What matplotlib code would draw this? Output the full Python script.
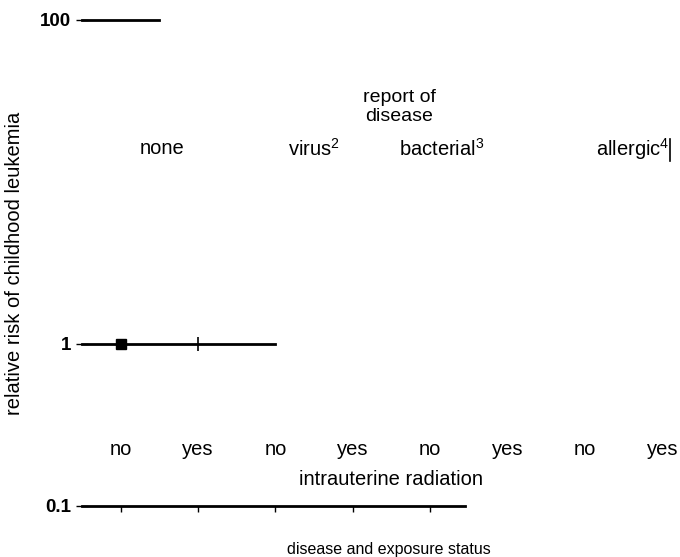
import matplotlib.pyplot as plt
import numpy as np

plt.rcParams['font.family'] = ['Liberation Sans', 'DejaVu Sans']
plt.rcParams['mathtext.fontset'] = 'custom'
plt.rcParams['mathtext.rm'] = 'Liberation Sans'

# groups along the x axis
disease = ['none', 'virus', 'bacterial', 'allergic']
notes = ['', '2', '3', '4']
disease_x = [1.53, 3.5, 5.15, 7.62]
exposure = ['no', 'yes', 'no', 'yes', 'no', 'yes', 'no', 'yes']
exposure_x = [1, 2, 3, 4, 5, 6, 7, 8]

# estimates (reference group = 1)
est_x = [1]
est_y = [1.0]
mark_x = [2]
mark_y = [1.0]
ref_x = [0.5, 3.0]
ref_y = [1.0, 1.0]
top_x = [0.5, 1.5]
top_y = [100.0, 100.0]

fig = plt.figure(figsize=(6.8, 5.57), dpi=100)
ax = fig.add_axes([82/680, 1-506/557, 383/680, 486/557])
ax.set_yscale('log')
ax.set_ylim(0.1, 100)
ax.set_xlim(0.5, 5.45)

ax.plot(top_x, top_y, color='black', lw=2, clip_on=False)
ax.plot(ref_x, ref_y, color='black', lw=2, clip_on=False)
ax.plot(est_x, est_y, 's', color='black', ms=7, clip_on=False)
ax.plot(mark_x, mark_y, '|', color='black', ms=10, mew=1.2, clip_on=False)

for s in ['top', 'right', 'left']:
    ax.spines[s].set_visible(False)
ax.spines['bottom'].set_linewidth(2)

ax.set_xticks([1, 2, 3, 4, 5])
ax.set_xticklabels([])
ax.tick_params(axis='x', direction='out', length=4, width=1)
ax.set_yticks([0.1, 1, 100])
ax.set_yticklabels(['0.1', '1', '100'], fontweight='bold')
ax.yaxis.set_minor_locator(plt.NullLocator())
ax.tick_params(axis='y', direction='inout', length=8, width=1, labelsize=13.5, pad=4)

for x, lab in zip(exposure_x, exposure):
    ax.text(x, 0.223, lab, ha='center', va='center', fontsize=14.5, clip_on=False)
ax.text(4.5, 0.145, 'intrauterine radiation', ha='center', va='center', fontsize=14.5, clip_on=False)
ax.text(4.47, 0.054, 'disease and exposure status', ha='center', va='center', fontsize=11.5, clip_on=False)

for x, lab, n in zip(disease_x, disease, notes):
    s = lab if not n else lab + r'$^{' + n + '}$'
    ax.text(x, 16, s, ha='center', va='center', fontsize=14.5, clip_on=False)
ax.text(4.6, 29, 'report of\ndisease', ha='center', va='center', fontsize=14,
        linespacing=1.2, clip_on=False)
ax.plot([8.1, 8.1], [13.5, 18.5], color='black', lw=1.2, clip_on=False)

fig.text(15/680, 1-263/557, 'relative risk of childhood leukemia', rotation=90,
         ha='center', va='center', fontsize=14.5)

fig.savefig('out.png', dpi=100)
